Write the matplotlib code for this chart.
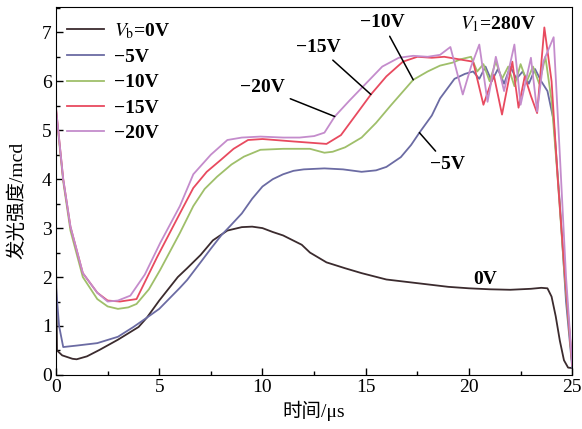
import numpy as np
import matplotlib
matplotlib.use("Agg")
import matplotlib.pyplot as plt
from matplotlib.ticker import MultipleLocator

plt.rcParams['font.family'] = ['Liberation Serif', 'Noto Sans CJK SC']
plt.rcParams['mathtext.fontset'] = 'stix'

# time axis values (us) and luminous intensity (mcd)
t_0v = [0, 0.05, 0.3, 0.8, 1.0, 1.5, 2.1, 3, 4, 4.4, 5, 5.9, 6.35, 7, 7.6, 8.3, 9, 9.5, 10,
        10.5, 11, 11.9, 12.3, 13.1, 14, 14.8, 16, 17, 18, 19, 20, 21, 22, 23, 23.5,
        23.8, 24.0, 24.2, 24.4, 24.6, 24.8, 25]
v_0v = [2.35, 0.5, 0.4, 0.33, 0.32, 0.38, 0.51, 0.72, 0.98, 1.17, 1.52, 2.0, 2.18, 2.45, 2.75,
        2.95, 3.02, 3.03, 3.0, 2.92, 2.85, 2.66, 2.5, 2.3, 2.18, 2.08, 1.95, 1.9, 1.85,
        1.8, 1.77, 1.75, 1.74, 1.76, 1.78, 1.77, 1.6, 1.2, 0.7, 0.3, 0.15, 0.14]

t_5v = [0, 0.15, 0.35, 1, 2, 3, 3.75, 4.4, 5, 6, 6.35, 7, 7.5, 8, 8.45, 9, 9.5, 10, 10.5,
        11, 11.5, 12, 13, 13.9, 14.8, 15.5, 16, 16.7, 17.2, 17.6, 18.2, 18.6, 19.3,
        19.8, 20.2, 20.5, 20.8, 21.1, 21.4, 21.7, 22, 22.3, 22.6, 22.9, 23.2, 23.5,
        23.8, 24.1, 24.4, 24.7, 25]
v_5v = [1.8, 1.0, 0.57, 0.6, 0.65, 0.78, 0.98, 1.17, 1.35, 1.78, 1.94, 2.3, 2.58, 2.85, 3.05,
        3.3, 3.6, 3.85, 4.0, 4.1, 4.17, 4.2, 4.22, 4.2, 4.15, 4.18, 4.25, 4.45, 4.7,
        4.95, 5.3, 5.65, 6.05, 6.15, 6.2, 6.05, 6.3, 6.0, 6.25, 5.95, 6.3, 6.05, 6.2,
        5.95, 6.25, 6.0, 5.8, 5.2, 3.5, 1.5, 0.15]

t_10v = [0, 0.35, 0.7, 1.3, 2.0, 2.5, 3.0, 3.5, 3.9, 4.5, 5.05, 6.0, 6.65, 7.2, 7.8, 8.5, 9.1,
         9.9, 11, 12.3, 13.0, 13.4, 14, 14.8, 15.5, 16.2, 17.3, 18, 18.6, 19.2, 19.6,
         20.1, 20.4, 20.7, 21.0, 21.3, 21.6, 21.9, 22.2, 22.5, 22.8, 23.1, 23.4, 23.7,
         24.0, 24.3, 24.6, 25]
v_10v = [5.4, 3.95, 2.95, 2.0, 1.55, 1.4, 1.35, 1.38, 1.45, 1.75, 2.15, 2.9, 3.45, 3.8, 4.05,
         4.3, 4.46, 4.6, 4.62, 4.62, 4.54, 4.56, 4.65, 4.85, 5.15, 5.5, 6.03, 6.2, 6.32,
         6.38, 6.45, 6.5, 6.2, 6.35, 6.0, 6.4, 6.05, 6.3, 5.9, 6.35, 6.0, 6.3, 5.95, 6.5,
         5.6, 4.0, 2.2, 0.2]

t_15v = [0, 0.35, 0.7, 1.3, 2.0, 2.5, 3.1, 3.9, 4.9, 6.0, 6.65, 7.3, 8.0, 8.6, 9.3, 10, 11.5,
         13.1, 13.8, 14.5, 15.25, 16, 16.8, 17.5, 18.2, 18.8, 19.5, 20.2, 20.7, 21.2,
         21.6, 22.1, 22.4, 22.7, 23.0, 23.3, 23.65, 24.0, 24.3, 24.6, 25]
v_15v = [5.45, 4.0, 3.03, 2.08, 1.68, 1.52, 1.5, 1.55, 2.41, 3.3, 3.82, 4.15, 4.4, 4.62, 4.8,
         4.82, 4.77, 4.72, 4.9, 5.3, 5.73, 6.1, 6.4, 6.5, 6.48, 6.5, 6.45, 6.4, 5.52,
         6.13, 5.32, 6.4, 5.46, 6.1, 5.7, 5.35, 7.1, 6.0, 4.0, 2.3, 0.2]

t_20v = [0, 0.35, 0.7, 1.3, 2.0, 2.5, 3.0, 3.6, 4.3, 5.05, 6.0, 6.65, 7.5, 8.3, 9.0, 9.9, 11,
         11.8, 12.5, 13.0, 13.5, 14.2, 15, 15.8, 16.6, 17.3, 18, 18.6, 19.1, 19.7, 20.1,
         20.5, 20.9, 21.3, 21.7, 22.2, 22.5, 23.0, 23.3, 23.6, 24.1, 24.4, 24.7, 25]
v_20v = [5.45, 4.0, 3.03, 2.08, 1.68, 1.5, 1.52, 1.62, 2.05, 2.7, 3.45, 4.1, 4.5, 4.8, 4.85,
         4.87, 4.85, 4.85, 4.88, 4.95, 5.28, 5.6, 5.95, 6.3, 6.48, 6.52, 6.5, 6.54, 6.7,
         5.73, 6.3, 6.75, 5.58, 6.5, 5.8, 6.75, 5.52, 6.48, 5.38, 6.4, 6.9, 4.5, 2.0, 0.2]

series = [
    (t_0v, v_0v, r'$V_{\mathrm{b}}$=0V', '#3b2b2e'),
    (t_5v, v_5v, '−5V', '#6b6ba3'),
    (t_10v, v_10v, '−10V', '#9fbf6a'),
    (t_15v, v_15v, '−15V', '#e84a5f'),
    (t_20v, v_20v, '−20V', '#c48ccc'),
]

fig = plt.figure(figsize=(5.82, 4.29), dpi=100)
ax = fig.add_axes([0.0962, 0.126, 0.887, 0.858])

for t, v, lab, c in series:
    ax.plot(t, v, color=c, lw=1.3, label=lab)

ax.set_xlim(0, 25)
ax.set_ylim(0, 7.52)
ax.xaxis.set_major_locator(MultipleLocator(5))
ax.xaxis.set_minor_locator(MultipleLocator(2.5))
ax.yaxis.set_major_locator(MultipleLocator(1))
ax.yaxis.set_minor_locator(MultipleLocator(0.5))
ax.tick_params(which='both', direction='in', labelsize=14, pad=3)
ax.tick_params(which='major', length=5, width=1)
ax.tick_params(which='minor', length=3, width=1)

ax.set_xlabel('时间/μs', fontsize=14, labelpad=3)
ax.set_ylabel('发光强度/mcd', fontsize=14)
ax.yaxis.set_label_coords(-0.058, 0.475)

leg = ax.legend(loc='upper left', bbox_to_anchor=(0.022, 0.962), frameon=False,
                borderaxespad=0, borderpad=0, handlelength=1.9, handletextpad=0.5,
                labelspacing=0.4, prop={'size': 14, 'weight': 'bold'})

# labels with leader lines
ann = dict(fontsize=14, fontweight='bold', ha='center', va='center')
lw_ld = dict(arrowstyle='-', color='black', lw=1.1, shrinkA=2, shrinkB=0)
ax.annotate('−20V', xy=(13.5, 5.28), xytext=(10.0, 5.87), arrowprops=lw_ld, **ann)
ax.annotate('−15V', xy=(15.25, 5.73), xytext=(12.7, 6.7), arrowprops=lw_ld, **ann)
ax.annotate('−10V', xy=(17.3, 6.03), xytext=(15.8, 7.2), arrowprops=lw_ld, **ann)
ax.annotate('−5V', xy=(17.6, 4.95), xytext=(18.95, 4.3), arrowprops=lw_ld, **ann)
ax.text(20.8, 1.95, '0V', **ann)
ax.text(21.4, 7.17, r'$V_1$=280V', **ann)

fig.savefig('out.png', dpi=100)
